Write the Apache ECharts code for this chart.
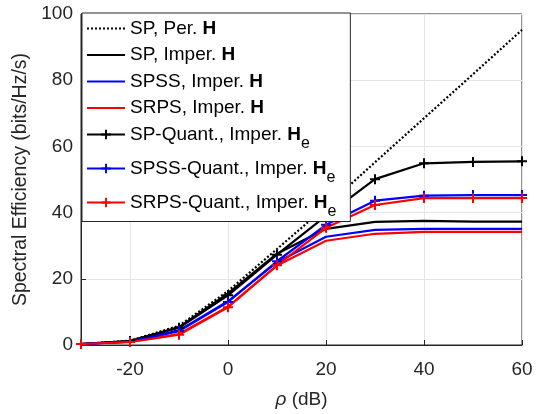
<!DOCTYPE html>
<html>
<head>
<meta charset="utf-8">
<script src="https://cdn.jsdelivr.net/npm/echarts@6/dist/echarts.min.js"></script>
<style>html,body{margin:0;padding:0;background:#fff}#c{width:537px;height:414px}</style>
</head>
<body>
<div id="c"></div>
<script>
var rho = [-30, -20, -10, 0, 10, 20, 30, 40, 50, 60];
var spPer      = [0.3, 1.3, 5.8, 16.3, 29.0, 41.8, 55.2, 68.5, 81.8, 95.2];
var spImp      = [0.3, 1.2, 5.4, 15.6, 27.6, 35.1, 37.2, 37.5, 37.3, 37.3];
var spssImp    = [0.3, 1.0, 4.4, 13.2, 25.0, 32.7, 34.8, 35.1, 35.1, 35.1];
var srpsImp    = [0.3, 0.9, 3.3, 11.6, 24.0, 31.5, 33.6, 34.2, 34.2, 34.2];
var spQuant    = [0.3, 1.2, 5.2, 15.0, 27.3, 39.0, 50.1, 54.9, 55.3, 55.5];
var spssQuant  = [0.3, 1.0, 4.2, 13.0, 25.3, 36.3, 43.6, 45.1, 45.3, 45.3];
var srpsQuant  = [0.3, 0.9, 3.1, 11.4, 24.1, 35.4, 42.3, 44.4, 44.4, 44.4];
var xTicks = [-20, 0, 20, 40, 60];
var names = ['SP, Per. H', 'SP, Imper. H', 'SPSS, Imper. H', 'SRPS, Imper. H',
             'SP-Quant., Imper. He', 'SPSS-Quant., Imper. He', 'SRPS-Quant., Imper. He'];
var hasMarker = [false, false, false, false, true, true, true];

var plus = 'path://M-1,-5H1V-1H5V1H1V5H-1V1H-5V-1H-1Z';
function pairs(v){ return rho.map(function(x,i){ return [x, v[i]]; }); }
function mk(name, data, color, dotted, marker){
  return {
    name: name, type: 'line', data: pairs(data),
    symbol: marker ? plus : 'none', symbolSize: 10, showSymbol: !!marker,
    itemStyle: {color: color},
    lineStyle: {color: color, width: 2.2, type: dotted ? [2, 2] : 'solid'},
    emphasis: {disabled: true}, animation: false
  };
}
var fam = 'Liberation Sans, Arial, sans-serif';
var chart = echarts.init(document.getElementById('c'));
chart.setOption({
  animation: false,
  grid: {left: 81, right: 15, top: 14, bottom: 67, show: true, borderColor: '#262626', borderWidth: 1, backgroundColor: 'transparent'},
  xAxis: {
    type: 'value', min: -30, max: 60,
    name: '{i|ρ} (dB)', nameLocation: 'middle', nameGap: 45,
    nameTextStyle: {fontFamily: fam, fontSize: 19, color: '#262626', rich: {i: {fontFamily: fam, fontStyle: 'italic', fontSize: 19, color: '#262626'}}},
    axisLine: {onZero: false, lineStyle: {color: '#262626'}},
    axisTick: {inside: true, length: 5, customValues: xTicks, lineStyle: {color: '#262626'}},
    axisLabel: {customValues: xTicks, fontFamily: fam, fontSize: 19, color: '#262626', margin: 15},
    splitLine: {show: true, lineStyle: {color: '#e6e6e6', width: 1}}
  },
  yAxis: {
    type: 'value', min: 0, max: 100, interval: 20,
    name: 'Spectral Efficiency (bits/Hz/s)', nameLocation: 'middle', nameGap: 49,
    nameTextStyle: {fontFamily: fam, fontSize: 19.5, color: '#262626'},
    axisLine: {show: true, onZero: false, lineStyle: {color: '#262626'}},
    axisTick: {show: true, inside: true, length: 5, lineStyle: {color: '#262626'}},
    axisLabel: {fontFamily: fam, fontSize: 19, color: '#262626', margin: 8},
    splitLine: {show: true, lineStyle: {color: '#e6e6e6', width: 1}}
  },
  legend: {
    orient: 'vertical', left: 82, top: 13,
    backgroundColor: '#fff', borderColor: '#262626', borderWidth: 1,
    padding: [6, 14, 2, 4], itemGap: 7.5, itemWidth: 38, itemHeight: 12,
    data: names.map(function(n, i){
      return hasMarker[i] ? {name: n} : {name: n, itemStyle: {opacity: 0}};
    }),
    formatter: function(n){
      if (n.slice(-2) === 'He') return n.slice(0, -2) + '{b|H}{s|e}';
      return n.slice(0, -1) + '{b|H}';
    },
    textStyle: {fontFamily: fam, fontSize: 19, color: '#000',
      rich: {
        b: {fontFamily: fam, fontSize: 19, fontWeight: 'bold', color: '#000'},
        s: {fontFamily: fam, fontSize: 16, color: '#000', padding: [18, 0, 0, 0]}
      }}
  },
  series: [
    mk(names[0], spPer, '#000', true, false),
    mk(names[1], spImp, '#000', false, false),
    mk(names[2], spssImp, '#0000ff', false, false),
    mk(names[3], srpsImp, '#ff0000', false, false),
    mk(names[4], spQuant, '#000', false, true),
    mk(names[5], spssQuant, '#0000ff', false, true),
    mk(names[6], srpsQuant, '#ff0000', false, true)
  ]
});
</script>
</body>
</html>
